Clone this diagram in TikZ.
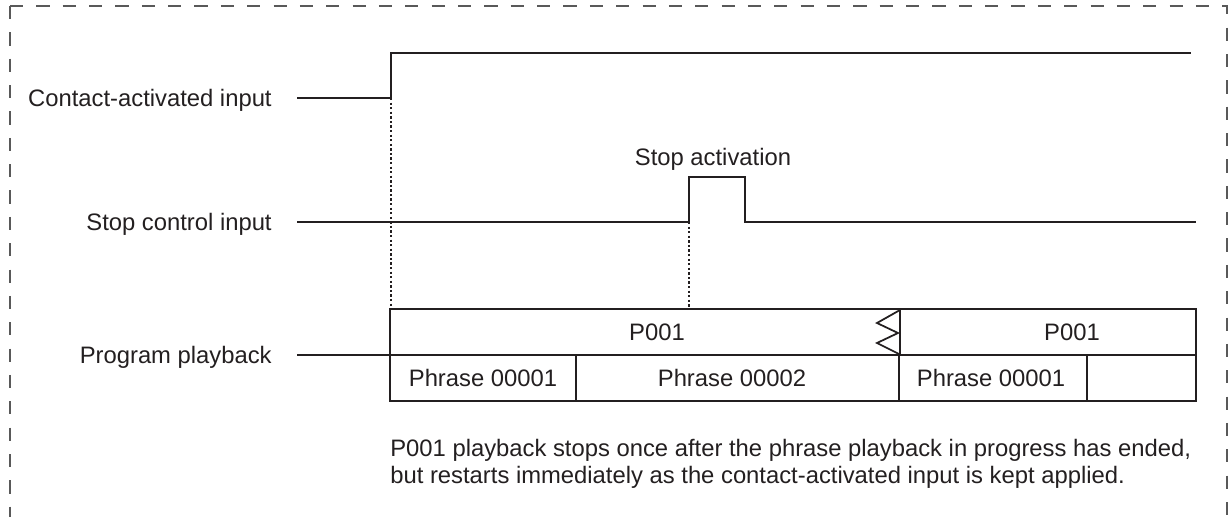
\documentclass[tikz,border=0pt]{standalone}
\usepackage{fontspec}
\setmainfont{Liberation Sans}
\usepackage{xcolor}
\usepackage{tikz}
\usetikzlibrary{positioning}
\definecolor{ink}{HTML}{231F20}
\tikzset{
  lbl/.style={
    font=\fontsize{13.55}{16}\selectfont,
    text=ink,
    inner sep=0pt,
    text height=9.7pt,
    text depth=0pt
  },
  note/.style={
    font=\fontsize{13.55}{15.3}\selectfont,
    text=ink,
    inner sep=0pt,
    align=left
  },
  sig/.style={draw=ink, line width=1.2pt},
  guide/.style={draw=ink, line width=1.3pt, dash pattern=on 1.3pt off 1.3pt},
  cell/.style={draw=ink, line width=1.4pt},
  frame/.style={draw=black!65, line width=0.9pt, dash pattern=on 7.5pt off 7.5pt}
}

\begin{document}
\begin{tikzpicture}[x=0.02cm, y=-0.02cm]
  \useasboundingbox (0,0) rectangle (1228,517);
  % dashed frame, open at the bottom
  \draw[frame] (10,6) -- (1227,6) -- (1227,517);
  \draw[frame] (10,6) -- (10,517);

  \coordinate (ca0) at (297,98);
  \coordinate (ca1) at (391,98);
  \coordinate (sc0) at (297,222);
  \coordinate (sc1) at (689,222);
  \coordinate (pp0) at (297,355);
  \coordinate (pp1) at (390,355);
  \coordinate (boxtl) at (390,309);
  \coordinate (boxbr) at (1196,401);

  \node[lbl, left=0.5cm of ca0] (calabel) {Contact-activated input};
  \node[lbl, left=0.5cm of sc0] (sclabel) {Stop control input};
  \node[lbl, left=0.5cm of pp0] (pplabel) {Program playback};

  % signals
  \draw[sig] (ca0) -- (ca1) -- ++(0,-45) -- (1191,53);
  \draw[sig] (sc0) -- (sc1) -- ++(0,-45) -- ++(56,0) -- ++(0,45) -- (1196,222);
  \draw[sig] (pp0) -- (pp1);
  \node[lbl] (stopact) at (713,157) {Stop activation};

  \draw[guide] (ca1) -- (ca1 |- boxtl);
  \draw[guide] (sc1) -- (sc1 |- boxtl);

  % playback box
  \draw[cell] (boxtl) rectangle (boxbr);
  \draw[cell] (pp1) -- (pp1 -| boxbr);
  \draw[cell] (900,309) -- (900,355);
  \draw[cell] (576,355) -- (576,401);
  \draw[cell] (899,355) -- (899,401);
  \draw[cell] (1087,355) -- (1087,401);
  \draw[ink, line width=1pt, line join=miter] (900,310) -- (877,323) -- (898,333) -- (877,343) -- (899,354);

  \node[lbl] (prog1) at (657,332) {P001};
  \node[lbl] (prog2) at (1072,332) {P001};
  \node[lbl] (phr1) at (483,378) {Phrase 00001};
  \node[lbl] (phr2) at (732,378) {Phrase 00002};
  \node[lbl] (phr3) at (991,378) {Phrase 00001};

  \node[note, anchor=base west] (caption) at (390,483) {P001 playback stops once after the phrase playback in progress has ended,\\but restarts immediately as the contact-activated input is kept applied.};
\end{tikzpicture}
\end{document}
